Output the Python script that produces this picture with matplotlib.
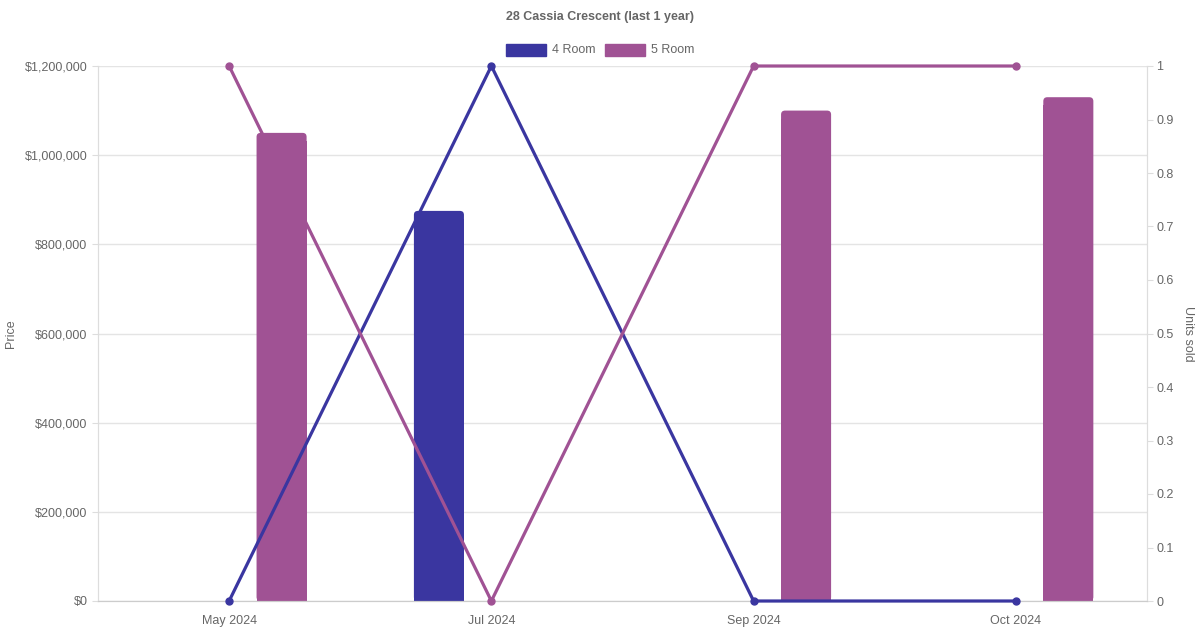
import matplotlib.pyplot as plt
import numpy as np
from matplotlib.patches import FancyBboxPatch, Rectangle
from matplotlib.ticker import FuncFormatter

plt.rcParams['font.family'] = ['Liberation Sans', 'DejaVu Sans']

# Daten
months = ['May 2024', 'Jul 2024', 'Sep 2024', 'Oct 2024']
price_4room = [None, 875000, None, None]
price_5room = [1050000, None, 1100000, 1130000]
units_4room = [0, 1, 0, 0]
units_5room = [1, 0, 1, 1]
series_names = ['4 Room', '5 Room']

c4 = '#3a36a0'
c5 = '#a05294'
grey = '#666666'
gridc = '#e4e4e4'

fig = plt.figure(figsize=(12, 6.3), dpi=100)
ax = fig.add_axes([98/1200, 1-601/630, (1147-98)/1200, (601-66)/630])
ax2 = ax.twinx()

x = np.arange(len(months))
bw = 50/262  # Balkenbreite in Kategorie-Einheiten
off = 0.2

# abgerundete Ecken oben: Radius ca. 4 px
rx = 4/262
ry = 4/535*1200000

def rounded_bars(xs, vals, color):
    for xi, v in zip(xs, vals):
        if v is None:
            continue
        ax.add_patch(Rectangle((xi - bw/2, 0), bw, v - 2*ry, color=color, lw=0, zorder=2))
        ax.add_patch(FancyBboxPatch((xi - bw/2, 0), bw, v,
                                    boxstyle='round,pad=0,rounding_size=%f' % rx,
                                    mutation_aspect=ry/rx, color=color, lw=0, zorder=2))

rounded_bars(x - off, price_4room, c4)
rounded_bars(x + off, price_5room, c5)

ax.set_xlim(-0.5, len(months) - 0.5)
ax.set_ylim(0, 1200000)
ax.set_yticks(np.arange(0, 1200001, 200000))
ax.yaxis.set_major_formatter(FuncFormatter(lambda v, p: '${:,.0f}'.format(v)))
ax.set_xticks(x)
ax.set_xticklabels(months)
ax.grid(axis='y', color=gridc, lw=1)
ax.set_axisbelow(True)

# Linien auf der rechten Achse
ax2.plot(x, units_4room, color=c4, lw=2.3, marker='o', ms=5, zorder=3, clip_on=False)
ax2.plot(x, units_5room, color=c5, lw=2.3, marker='o', ms=5, zorder=3, clip_on=False)
ax2.set_ylim(0, 1)
ax2.set_yticks(np.arange(0, 1.01, 0.1))
ax2.yaxis.set_major_formatter(FuncFormatter(lambda v, p: '%g' % round(v, 1)))

for a in (ax, ax2):
    a.spines['top'].set_visible(False)
    a.spines['left'].set_color('#dddddd')
    a.spines['right'].set_color('#dddddd')
    a.spines['bottom'].set_color('#cccccc')
    a.tick_params(colors='#dddddd', labelcolor=grey, labelsize=9, length=4.5, width=0.8)
ax.tick_params(axis='x', length=0, pad=10)
ax.tick_params(axis='y', pad=3)
ax2.tick_params(axis='y', pad=2)

ax.set_ylabel('Price', color=grey, fontsize=9, va='center')
ax.yaxis.set_label_coords(-87/1049, 0.5)
ax2.set_ylabel('Units sold', color=grey, fontsize=9, rotation=270, va='center')
ax2.yaxis.set_label_coords(1 + 41/1049, 0.5)

fig.text(0.5, 1-17/630, '28 Cassia Crescent (last 1 year)', ha='center', va='center',
         color=grey, fontsize=9, fontweight='bold')

# Legende von Hand wie bei Chart.js
for lx, name, col in [(506, series_names[0], c4), (605, series_names[1], c5)]:
    fig.patches.append(Rectangle((lx/1200, 1-56/630), 40/1200, 12/630, color=col,
                                 transform=fig.transFigure, figure=fig))
    fig.text((lx+46)/1200, 1-50/630, name, ha='left', va='center', color=grey, fontsize=9)

fig.savefig('out.png', dpi=100)
